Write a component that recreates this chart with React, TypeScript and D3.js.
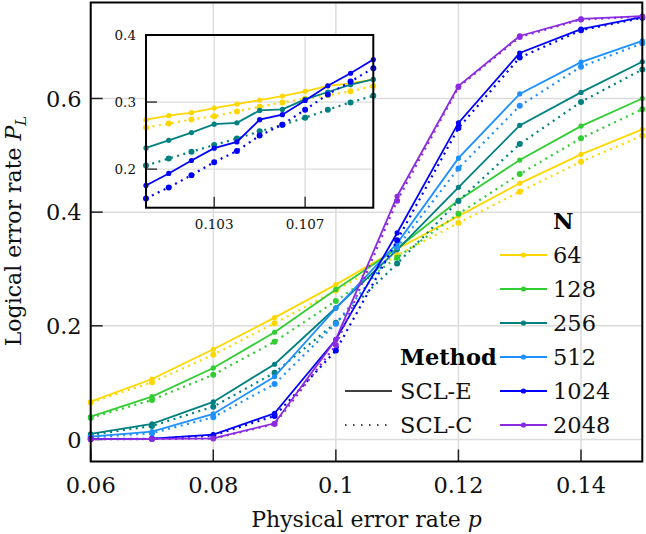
import React from "react";
import * as d3 from "d3";

const W = 646;
const H = 534;

const sizes = ["64", "128", "256", "512", "1024", "2048"];
const colors = ["#FFD700", "#32CD32", "#008080", "#1E90FF", "#0000FF", "#8A2BE2"];

const pMain = [0.06, 0.07, 0.08, 0.09, 0.1, 0.11, 0.12, 0.13, 0.14, 0.15];

const sclE64 = [0.0665, 0.1064, 0.1587, 0.2143, 0.2725, 0.335, 0.393, 0.4507, 0.5017, 0.5457];
const sclE128 = [0.04, 0.0753, 0.1258, 0.1886, 0.264, 0.336, 0.421, 0.4916, 0.5514, 0.6];
const sclE256 = [0.0097, 0.0273, 0.066, 0.1323, 0.2317, 0.3337, 0.4436, 0.5527, 0.6107, 0.6646];
const sclE512 = [0.005, 0.0137, 0.0449, 0.1105, 0.2307, 0.345, 0.495, 0.608, 0.664, 0.7015];
const sclE1024 = [0.001, 0.0015, 0.0085, 0.046, 0.1757, 0.3634, 0.557, 0.68, 0.722, 0.743];
const sclE2048 = [0.0005, 0.001, 0.002, 0.0285, 0.176, 0.428, 0.622, 0.71, 0.74, 0.745];

const sclC64 = [0.065, 0.1006, 0.149, 0.2044, 0.262, 0.324, 0.381, 0.436, 0.4887, 0.5344];
const sclC128 = [0.038, 0.0695, 0.114, 0.172, 0.2436, 0.3198, 0.397, 0.467, 0.53, 0.581];
const sclC256 = [0.008, 0.0237, 0.0577, 0.1175, 0.2054, 0.3094, 0.4195, 0.5198, 0.594, 0.651];
const sclC512 = [0.004, 0.011, 0.039, 0.0976, 0.2037, 0.338, 0.477, 0.587, 0.656, 0.697];
const sclC1024 = [0.0008, 0.0012, 0.007, 0.0413, 0.1564, 0.3505, 0.548, 0.672, 0.72, 0.742];
const sclC2048 = [0.0004, 0.0008, 0.0015, 0.027, 0.166, 0.42, 0.62, 0.708, 0.739, 0.744];

const mainE = [sclE64, sclE128, sclE256, sclE512, sclE1024, sclE2048];
const mainC = [sclC64, sclC128, sclC256, sclC512, sclC1024, sclC2048];

const pInset = [0.1, 0.101, 0.102, 0.103, 0.104, 0.105, 0.106, 0.107, 0.108, 0.109, 0.11];
const insetSizeIdx = [0, 2, 4];
const insetE64 = [0.2738, 0.2797, 0.2842, 0.2911, 0.297, 0.303, 0.309, 0.316, 0.324, 0.328, 0.334];
const insetC64 = [0.262, 0.268, 0.274, 0.279, 0.286, 0.293, 0.2995, 0.305, 0.31, 0.316, 0.324];
const insetE256 = [0.2317, 0.243, 0.2545, 0.267, 0.269, 0.2876, 0.289, 0.304, 0.315, 0.326, 0.3337];
const insetC256 = [0.2054, 0.2158, 0.226, 0.236, 0.2455, 0.2564, 0.266, 0.2767, 0.2886, 0.2995, 0.3094];
const insetE1024 = [0.1757, 0.1936, 0.2129, 0.2312, 0.2406, 0.2738, 0.2812, 0.3025, 0.3243, 0.343, 0.3634];
const insetC1024 = [0.1564, 0.1728, 0.191, 0.2104, 0.2272, 0.25, 0.2663, 0.2886, 0.3114, 0.3307, 0.3505];
const insetE = [insetE64, insetE256, insetE1024];
const insetC = [insetC64, insetC256, insetC1024];

const xTicks = [0.06, 0.08, 0.1, 0.12, 0.14];
const xTickLabels = ["0.06", "0.08", "0.1", "0.12", "0.14"];
const yTicks = [0, 0.2, 0.4, 0.6];
const yTickLabels = ["0", "0.2", "0.4", "0.6"];
const insetXTicks = [0.103, 0.107];
const insetXTickLabels = ["0.103", "0.107"];
const insetYTicks = [0.2, 0.3, 0.4];
const insetYTickLabels = ["0.2", "0.3", "0.4"];

const FONT = "'DejaVu Serif', serif";

export default function App() {
  const L = 90.7, R = 642.3, T = 2.5, B = 461.5;
  const x = d3.scaleLinear().domain([0.06, 0.15]).range([L, R]);
  const y = d3.scaleLinear().domain([-0.0388, 0.7689]).range([B, T]);

  const iL = 146, iR = 373.3, iT = 35, iB = 207.7;
  const ix = d3.scaleLinear().domain([0.1, 0.11]).range([iL, iR]);
  const iy = d3.scaleLinear().domain([0.1425, 0.4]).range([iB, iT]);

  const mkLine = (xs: any, ys: any, px: number[]) =>
    d3.line<number>().x((_, i) => xs(px[i])).y((d) => ys(d));

  const lineMain = mkLine(x, y, pMain);
  const lineInset = mkLine(ix, iy, pInset);

  const gridColor = "#dcdcdc";
  const dash = "2 4.5";

  const renderSeries = (
    key: string,
    vals: number[],
    color: string,
    dotted: boolean,
    ln: any,
    xs: any,
    ys: any,
    px: number[]
  ) => (
    <g key={key}>
      <path
        d={ln(vals) || ""}
        fill="none"
        stroke={color}
        strokeWidth={dotted ? 2.2 : 1.8}
        strokeDasharray={dotted ? dash : undefined}
        strokeLinecap={dotted ? "butt" : "round"}
      />
      {vals.map((v, i) => (
        <circle key={i} cx={xs(px[i])} cy={ys(v)} r={dotted ? 3 : 2.6} fill={color} />
      ))}
    </g>
  );

  const legendX1 = 500, legendX2 = 547, legendTextX = 553;
  const legendY0 = 255, legendDy = 34;

  return (
    <svg
      width={W}
      height={H}
      style={{ position: "absolute", left: 0, top: 0, background: "#fff" }}
      fontFamily={FONT}
    >
      <rect x={0} y={0} width={W} height={H} fill="#fff" />
      {/* grid */}
      {xTicks.map((t) => (
        <line key={"gx" + t} x1={x(t)} x2={x(t)} y1={T} y2={B} stroke={gridColor} strokeWidth={1.5} />
      ))}
      {yTicks.map((t) => (
        <line key={"gy" + t} x1={L} x2={R} y1={y(t)} y2={y(t)} stroke={gridColor} strokeWidth={1.5} />
      ))}
      {/* ticks */}
      {xTicks.map((t) => (
        <line key={"tx" + t} x1={x(t)} x2={x(t)} y1={B} y2={B - 12} stroke="#222" strokeWidth={1.5} />
      ))}
      {yTicks.map((t) => (
        <line key={"ty" + t} x1={L} x2={L + 12} y1={y(t)} y2={y(t)} stroke="#222" strokeWidth={1.5} />
      ))}
      {/* series */}
      {sizes.map((s, k) => (
        <g key={"s" + s}>
          {renderSeries("e" + s, mainE[k], colors[k], false, lineMain, x, y, pMain)}
          {renderSeries("c" + s, mainC[k], colors[k], true, lineMain, x, y, pMain)}
        </g>
      ))}
      {/* frame */}
      <rect x={L} y={T} width={R - L} height={B - T} fill="none" stroke="#000" strokeWidth={2} />
      {/* tick labels */}
      {xTicks.map((t, i) => (
        <text key={"lx" + t} x={x(t)} y={B + 31} textAnchor="middle" fontSize={22.5} fill="#111">
          {xTickLabels[i]}
        </text>
      ))}
      {yTicks.map((t, i) => (
        <text key={"ly" + t} x={L - 9} y={y(t)} dy="0.36em" textAnchor="end" fontSize={22.5} fill="#111">
          {yTickLabels[i]}
        </text>
      ))}
      {/* axis titles */}
      <text x={(L + R) / 2} y={527} textAnchor="middle" fontSize={22} fill="#111">
        Physical error rate <tspan fontStyle="italic">p</tspan>
      </text>
      <text
        transform={`translate(21,231) rotate(-90)`}
        textAnchor="middle"
        fontSize={22}
        fill="#111"
      >
        Logical error rate <tspan fontStyle="italic">P</tspan>
        <tspan fontStyle="italic" fontSize={15} dy={5}>L</tspan>
      </text>

      {/* inset */}
      <rect x={iL} y={iT} width={iR - iL} height={iB - iT} fill="#fff" />
      {insetXTicks.map((t) => (
        <line key={"igx" + t} x1={ix(t)} x2={ix(t)} y1={iT} y2={iB} stroke={gridColor} strokeWidth={1.3} />
      ))}
      {insetYTicks.map((t) => (
        <line key={"igy" + t} x1={iL} x2={iR} y1={iy(t)} y2={iy(t)} stroke={gridColor} strokeWidth={1.3} />
      ))}
      {insetXTicks.map((t) => (
        <line key={"itx" + t} x1={ix(t)} x2={ix(t)} y1={iB} y2={iB - 11} stroke="#222" strokeWidth={1.3} />
      ))}
      {insetYTicks.map((t) => (
        <line key={"ity" + t} x1={iL} x2={iL + 11} y1={iy(t)} y2={iy(t)} stroke="#222" strokeWidth={1.3} />
      ))}
      {insetSizeIdx.map((k, j) => (
        <g key={"is" + k}>
          {renderSeries("ie" + k, insetE[j], colors[k], false, lineInset, ix, iy, pInset)}
          {renderSeries("ic" + k, insetC[j], colors[k], true, lineInset, ix, iy, pInset)}
        </g>
      ))}
      <rect x={iL} y={iT} width={iR - iL} height={iB - iT} fill="none" stroke="#000" strokeWidth={2} />
      {insetXTicks.map((t, i) => (
        <text key={"ilx" + t} x={ix(t)} y={iB + 21} textAnchor="middle" fontSize={13.5} fill="#111">
          {insetXTickLabels[i]}
        </text>
      ))}
      {insetYTicks.map((t, i) => (
        <text key={"ily" + t} x={iL - 10} y={iy(t)} dy="0.36em" textAnchor="end" fontSize={13.5} fill="#111">
          {insetYTickLabels[i]}
        </text>
      ))}

      {/* N legend */}
      <text x={legendTextX} y={legendY0 - legendDy} dy="0.36em" fontSize={22.5} fontWeight="bold" fill="#000">
        N
      </text>
      {sizes.map((s, k) => {
        const yy = legendY0 + k * legendDy;
        return (
          <g key={"lg" + s}>
            <line x1={legendX1} x2={legendX2} y1={yy} y2={yy} stroke={colors[k]} strokeWidth={2} />
            <circle cx={(legendX1 + legendX2) / 2} cy={yy} r={2.6} fill={colors[k]} />
            <text x={legendTextX} y={yy} dy="0.36em" fontSize={22.5} fill="#111">
              {s}
            </text>
          </g>
        );
      })}
      {/* Method legend */}
      <text x={400} y={legendY0 + 3 * legendDy} dy="0.36em" fontSize={22.5} fontWeight="bold" fill="#000">
        Method
      </text>
      <line x1={345} x2={392} y1={legendY0 + 4 * legendDy} y2={legendY0 + 4 * legendDy} stroke="#000" strokeWidth={1.5} />
      <text x={400} y={legendY0 + 4 * legendDy} dy="0.36em" fontSize={22.5} fill="#111">
        SCL-E
      </text>
      <line
        x1={345}
        x2={392}
        y1={legendY0 + 5 * legendDy}
        y2={legendY0 + 5 * legendDy}
        stroke="#000"
        strokeWidth={1.6}
        strokeDasharray="1.5 6.5"
      />
      <text x={400} y={legendY0 + 5 * legendDy} dy="0.36em" fontSize={22.5} fill="#111">
        SCL-C
      </text>
    </svg>
  );
}
